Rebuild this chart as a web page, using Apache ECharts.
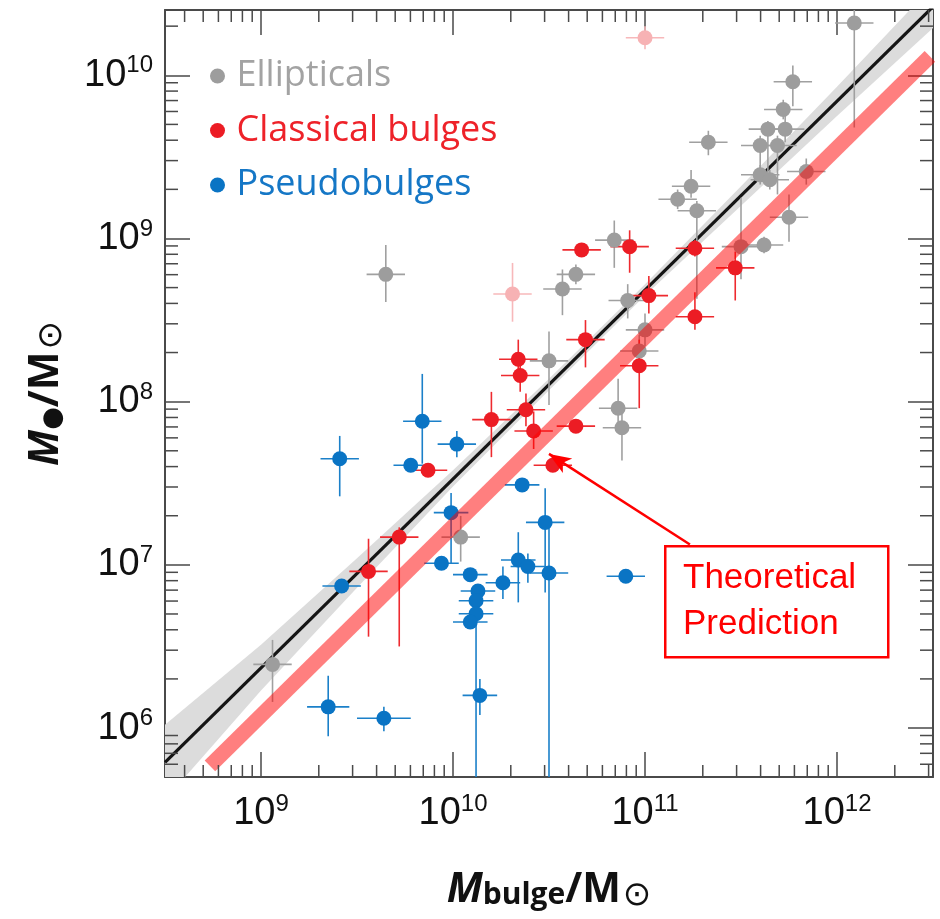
<!DOCTYPE html>
<html>
<head>
<meta charset="utf-8">
<script src="https://cdn.jsdelivr.net/npm/echarts@6/dist/echarts.min.js"></script>
<style>
  html, body { margin: 0; padding: 0; background: #fff; }
  #chart { width: 940px; height: 919px; }
</style>
</head>
<body>
<div id="chart"></div>
<script>
// every value is log10 of the mass (M_bulge on x, M_BH on y)
const xRange = [8.5, 12.5]
const yRange = [5.7, 10.4]
const xTickExps = [9, 10, 11, 12]
const yTickExps = [6, 7, 8, 9, 10]

// [log M_bulge, log M_BH, x error, y error down, y error up]
const ellipticals = [
  [9.06, 6.39, 0.10, 0.23, 0.15],
  [9.65, 8.78, 0.10, 0.17, 0.18],
  [12.09, 10.32, 0.10, 0.64, 0.10],
  [11.77, 9.96, 0.10, 0.15, 0.10],
  [11.72, 9.79, 0.10, 0.06, 0.06],
  [11.64, 9.67, 0.10, 0.30, 0.05],
  [11.73, 9.67, 0.10, 0.08, 0.08],
  [11.60, 9.57, 0.10, 0.20, 0.06],
  [11.69, 9.57, 0.10, 0.30, 0.06],
  [11.60, 9.39, 0.10, 0.06, 0.06],
  [11.65, 9.36, 0.10, 0.06, 0.06],
  [11.33, 9.59, 0.10, 0.08, 0.07],
  [11.24, 9.32, 0.10, 0.07, 0.10],
  [11.17, 9.24, 0.10, 0.06, 0.06],
  [11.27, 9.17, 0.10, 0.54, 0.06],
  [11.75, 9.13, 0.10, 0.15, 0.14],
  [11.62, 8.96, 0.10, 0.05, 0.05],
  [11.50, 8.95, 0.10, 0.20, 0.30],
  [11.84, 9.41, 0.10, 0.08, 0.08],
  [10.84, 8.99, 0.10, 0.17, 0.12],
  [10.64, 8.78, 0.10, 0.06, 0.06],
  [10.57, 8.69, 0.10, 0.16, 0.12],
  [10.91, 8.62, 0.10, 0.11, 0.10],
  [11.00, 8.44, 0.10, 0.10, 0.10],
  [10.97, 8.31, 0.10, 0.10, 0.10],
  [10.50, 8.25, 0.10, 0.27, 0.18],
  [10.86, 7.96, 0.10, 0.15, 0.18],
  [10.88, 7.84, 0.10, 0.20, 0.12],
  [10.04, 7.17, 0.10, 0.15, 0.13]
]

const classical = [
  [10.67, 8.93, 0.10, 0.04, 0.04],
  [10.92, 8.95, 0.10, 0.16, 0.10],
  [11.26, 8.94, 0.10, 0.05, 0.05],
  [11.02, 8.65, 0.10, 0.11, 0.12],
  [11.26, 8.52, 0.10, 0.08, 0.15],
  [10.69, 8.38, 0.10, 0.17, 0.12],
  [10.97, 8.22, 0.10, 0.26, 0.16],
  [10.34, 8.26, 0.10, 0.10, 0.12],
  [10.35, 8.16, 0.10, 0.10, 0.06],
  [10.20, 7.89, 0.10, 0.23, 0.17],
  [10.38, 7.95, 0.10, 0.10, 0.10],
  [10.42, 7.82, 0.10, 0.11, 0.12],
  [10.64, 7.85, 0.10, 0.04, 0.04],
  [10.52, 7.61, 0.10, 0.04, 0.04],
  [9.87, 7.58, 0.10, 0.03, 0.03],
  [9.72, 7.17, 0.10, 0.67, 0.06],
  [9.56, 6.96, 0.10, 0.40, 0.20],
  [11.47, 8.82, 0.10, 0.20, 0.10]
]

// faded classical bulges (not in the legend)
const omitted = [
  [11.00, 10.23, 0.10, 0.07, 0.07],
  [10.31, 8.66, 0.10, 0.17, 0.19]
]

const pseudobulges = [
  [9.41, 7.65, 0.10, 0.23, 0.14],
  [9.84, 7.88, 0.10, 0.26, 0.29],
  [10.02, 7.74, 0.10, 0.08, 0.08],
  [9.78, 7.61, 0.09, 0.04, 0.04],
  [9.99, 7.32, 0.09, 0.31, 0.12],
  [10.36, 7.49, 0.09, 0.03, 0.03],
  [10.48, 7.26, 0.10, 0.43, 0.21],
  [9.42, 6.87, 0.10, 0.03, 0.03],
  [9.94, 7.01, 0.09, 0.03, 0.03],
  [10.09, 6.94, 0.09, 0.03, 0.03],
  [10.34, 7.03, 0.09, 0.26, 0.17],
  [10.39, 6.99, 0.09, 0.10, 0.08],
  [10.50, 6.95, 0.10, 1.50, 0.30],
  [10.26, 6.89, 0.09, 0.10, 0.10],
  [10.13, 6.84, 0.09, 0.03, 0.03],
  [10.12, 6.78, 0.09, 0.03, 0.03],
  [10.12, 6.70, 0.09, 1.20, 0.04],
  [10.09, 6.65, 0.09, 0.03, 0.03],
  [10.90, 6.93, 0.10, 0.03, 0.03],
  [10.14, 6.20, 0.09, 0.12, 0.10],
  [9.64, 6.06, 0.14, 0.08, 0.07],
  [9.35, 6.13, 0.11, 0.18, 0.19]
]

// fitted relation and its scatter band
const fitLine = [[8.5, 5.79], [12.5, 10.42]]
const bandX = [8.5, 9.0, 9.5, 10.0, 10.5, 11.0, 11.5, 12.0, 12.5]
const bandUpper = [6.02, 6.51, 7.04, 7.58, 8.14, 8.72, 9.32, 9.93, 10.55]
const bandLower = [5.56, 6.23, 6.86, 7.48, 8.07, 8.65, 9.20, 9.75, 10.29]

// theoretical prediction
const theoryLine = [[8.734, 5.768], [12.484, 10.116]]
const arrowFrom = [11.234, 7.125]
const arrowTo = [10.50, 7.68]

const P = v => Math.pow(10, v)
const xMin = P(xRange[0]), xMax = P(xRange[1])
const yMin = P(yRange[0]), yMax = P(yRange[1])
const axisColor = '#4a4a4a'
const tickFont = '"Liberation Sans", Arial, sans-serif'
const titleFont = '"Open Sans", "DejaVu Sans", sans-serif'

function minorTicks(range) {
  const out = []
  for (let e = Math.floor(range[0]); e <= Math.ceil(range[1]); e++) {
    for (let m = 2; m <= 9; m++) {
      const lv = e + Math.log10(m)
      if (lv > range[0] && lv < range[1]) out.push(m * P(e))
    }
  }
  return out
}

function tickLabel(exps) {
  return function(v) {
    const e = Math.log10(v)
    const r = Math.round(e)
    if (Math.abs(e - r) > 1e-6 || exps.indexOf(r) < 0) return ''
    return '{b|10}{s|' + r + '}'
  }
}

const labelRich = {
  b: { fontSize: 38, lineHeight: 38, fontFamily: tickFont, color: '#111' },
  s: { fontSize: 24, lineHeight: 24, padding: [0, 0, 19, 0], fontFamily: tickFont, color: '#111' }
}

function clipRect(params) {
  const cs = params.coordSys
  return { type: 'rect', shape: { x: cs.x, y: cs.y, width: cs.width, height: cs.height } }
}

function errorData(arr) {
  return arr.map(d => [P(d[0]), P(d[1]), P(d[0] - d[2]), P(d[0] + d[2]), P(d[1] - d[3]), P(d[1] + d[4])])
}

function errorSeries(arr, color) {
  return {
    type: 'custom',
    silent: true,
    z: 3,
    data: errorData(arr),
    encode: { x: 0, y: 1 },
    renderItem: function(params, api) {
      const y = api.value(1), x = api.value(0)
      const l = api.coord([api.value(2), y])
      const r = api.coord([api.value(3), y])
      const b = api.coord([x, api.value(4)])
      const t = api.coord([x, api.value(5)])
      const st = { stroke: color, lineWidth: 1.6 }
      return {
        type: 'group',
        clipPath: clipRect(params),
        children: [
          { type: 'line', shape: { x1: l[0], y1: l[1], x2: r[0], y2: r[1] }, style: st },
          { type: 'line', shape: { x1: b[0], y1: b[1], x2: t[0], y2: t[1] }, style: st }
        ]
      }
    }
  }
}

function pointSeries(name, arr, color) {
  return {
    name: name,
    type: 'scatter',
    z: 4,
    symbol: 'circle',
    symbolSize: 15,
    data: arr.map(d => [P(d[0]), P(d[1])]),
    itemStyle: { color: color, opacity: 1 },
    emphasis: { disabled: true }
  }
}

function tickSeries(values, vertical) {
  return {
    type: 'custom',
    silent: true,
    z: 10,
    data: values.map(v => vertical ? [xMin, v] : [v, yMin]),
    renderItem: function(params, api) {
      const st = { stroke: axisColor, lineWidth: 1.5 }
      if (vertical) {
        const v = api.value(1)
        const a = api.coord([xMin, v]), c = api.coord([xMax, v])
        return { type: 'group', children: [
          { type: 'line', shape: { x1: a[0], y1: a[1], x2: a[0] + 13, y2: a[1] }, style: st },
          { type: 'line', shape: { x1: c[0], y1: c[1], x2: c[0] - 13, y2: c[1] }, style: st }
        ] }
      }
      const v = api.value(0)
      const a = api.coord([v, yMin]), c = api.coord([v, yMax])
      return { type: 'group', children: [
        { type: 'line', shape: { x1: a[0], y1: a[1], x2: a[0], y2: a[1] - 12 }, style: st },
        { type: 'line', shape: { x1: c[0], y1: c[1], x2: c[0], y2: c[1] + 12 }, style: st }
      ] }
    }
  }
}

const colors = { ell: '#9d9d9d', cla: '#ec1c24', pse: '#0a74c4', omit: '#f7b2b4' }

function logAxis(min, max, position, showLabel, exps, isY) {
  return {
    type: 'log',
    logBase: 10,
    position: position,
    min: min,
    max: max,
    splitLine: { show: false },
    minorTick: { show: false },
    axisLine: { show: true, onZero: false, lineStyle: { color: axisColor, width: 2 } },
    axisTick: { show: true, inside: true, length: 25, lineStyle: { color: axisColor, width: 1.5 } },
    axisLabel: {
      show: showLabel,
      margin: isY ? 12 : 18,
      formatter: tickLabel(exps),
      rich: labelRich,
      showMinLabel: true,
      showMaxLabel: true,
      hideOverlap: false
    }
  }
}

const chart = echarts.init(document.getElementById('chart'))

const sunStyle = { fontSize: 34, lineHeight: 36, padding: [12, 0, 0, 2], fontFamily: '"DejaVu Sans"', color: '#111' }

const xBottom = logAxis(xMin, xMax, 'bottom', true, xTickExps, false)
xBottom.name = '{i|M}{sub|bulge}{n|/M}{sun|\u2299}'
xBottom.nameLocation = 'middle'
xBottom.nameGap = 90
xBottom.nameTextStyle = {
  rich: {
    i: { fontSize: 41, lineHeight: 46, fontWeight: 'bold', fontStyle: 'italic', fontFamily: titleFont, color: '#111' },
    sub: { fontSize: 30, lineHeight: 34, padding: [10, 0, 0, 0], fontWeight: 'bold', fontFamily: titleFont, color: '#111' },
    n: { fontSize: 41, lineHeight: 46, fontWeight: 'bold', fontFamily: titleFont, color: '#111' },
    sun: sunStyle
  }
}

const yLeft = logAxis(yMin, yMax, 'left', true, yTickExps, true)
yLeft.name = '{i|M}{dot|\u25CF}{n|/M}{sun|\u2299}'
yLeft.nameLocation = 'middle'
yLeft.nameGap = 96
yLeft.nameTextStyle = {
  rich: {
    i: { fontSize: 41, lineHeight: 46, fontWeight: 'bold', fontStyle: 'italic', fontFamily: titleFont, color: '#111' },
    dot: { fontSize: 26, lineHeight: 30, padding: [14, 0, 0, 0], fontFamily: '"DejaVu Sans"', color: '#111' },
    n: { fontSize: 41, lineHeight: 46, fontWeight: 'bold', fontFamily: titleFont, color: '#111' },
    sun: sunStyle
  }
}

chart.setOption({
  animation: false,
  backgroundColor: '#fff',
  grid: { left: 165, top: 10, width: 768, height: 767, containLabel: false },
  legend: {
    orient: 'vertical',
    left: 205,
    top: 51,
    itemWidth: 28,
    itemHeight: 15,
    itemGap: 14.5,
    icon: 'circle',
    selectedMode: false,
    textStyle: { fontSize: 36, lineHeight: 40, fontFamily: '"Open Sans", sans-serif' },
    data: [
      { name: 'Ellipticals', textStyle: { color: '#a3a3a3' } },
      { name: 'Classical bulges', textStyle: { color: '#ee2229' } },
      { name: 'Pseudobulges', textStyle: { color: '#1577c6' } }
    ]
  },
  xAxis: [xBottom, logAxis(xMin, xMax, 'top', false, xTickExps, false)],
  yAxis: [yLeft, logAxis(yMin, yMax, 'right', false, yTickExps, true)],
  series: [
    {
      type: 'custom',
      silent: true,
      z: 1,
      data: [[P(10), P(8)]],
      renderItem: function(params, api) {
        const pts = []
        bandX.forEach((x, i) => pts.push(api.coord([P(x), P(bandUpper[i])])))
        for (let i = bandX.length - 1; i >= 0; i--) pts.push(api.coord([P(bandX[i]), P(bandLower[i])]))
        return { type: 'polygon', shape: { points: pts }, style: { fill: '#dcdcdc' }, clipPath: clipRect(params) }
      }
    },
    {
      type: 'line',
      silent: true,
      z: 2,
      showSymbol: false,
      data: fitLine.map(d => [P(d[0]), P(d[1])]),
      lineStyle: { color: '#151515', width: 3.2 }
    },
    errorSeries(pseudobulges, '#1b80c9'),
    errorSeries(ellipticals, '#a0a0a0'),
    errorSeries(omitted, '#f7b8ba'),
    errorSeries(classical, '#ee2a2f'),
    pointSeries('Pseudobulges', pseudobulges, colors.pse),
    pointSeries('Ellipticals', ellipticals, colors.ell),
    pointSeries('Omitted', omitted, colors.omit),
    pointSeries('Classical bulges', classical, colors.cla),
    {
      type: 'line',
      silent: true,
      z: 6,
      showSymbol: false,
      data: theoryLine.map(d => [P(d[0]), P(d[1])]),
      lineStyle: { color: '#ff0000', width: 15, opacity: 0.5, cap: 'butt' },
      markLine: {
        silent: true,
        symbol: ['none', 'arrow'],
        symbolSize: [13, 22],
        label: { show: false },
        lineStyle: { color: '#ff0000', width: 2.5, type: 'solid', opacity: 1 },
        data: [[{ coord: [P(arrowFrom[0]), P(arrowFrom[1])] }, { coord: [P(arrowTo[0]), P(arrowTo[1])] }]]
      }
    },
    tickSeries(minorTicks(xRange), false),
    tickSeries(minorTicks(yRange), true)
  ],
  graphic: [
    {
      type: 'rect',
      left: 664,
      top: 545,
      z: 100,
      shape: { width: 223, height: 111 },
      style: { fill: '#fff', stroke: '#ff0000', lineWidth: 2.5 }
    },
    {
      type: 'text',
      left: 683,
      top: 555,
      z: 101,
      style: {
        text: 'Theoretical\nPrediction',
        fill: '#ff0000',
        font: '35px "Liberation Sans", sans-serif',
        lineHeight: 46
      }
    }
  ]
})
</script>
</body>
</html>
